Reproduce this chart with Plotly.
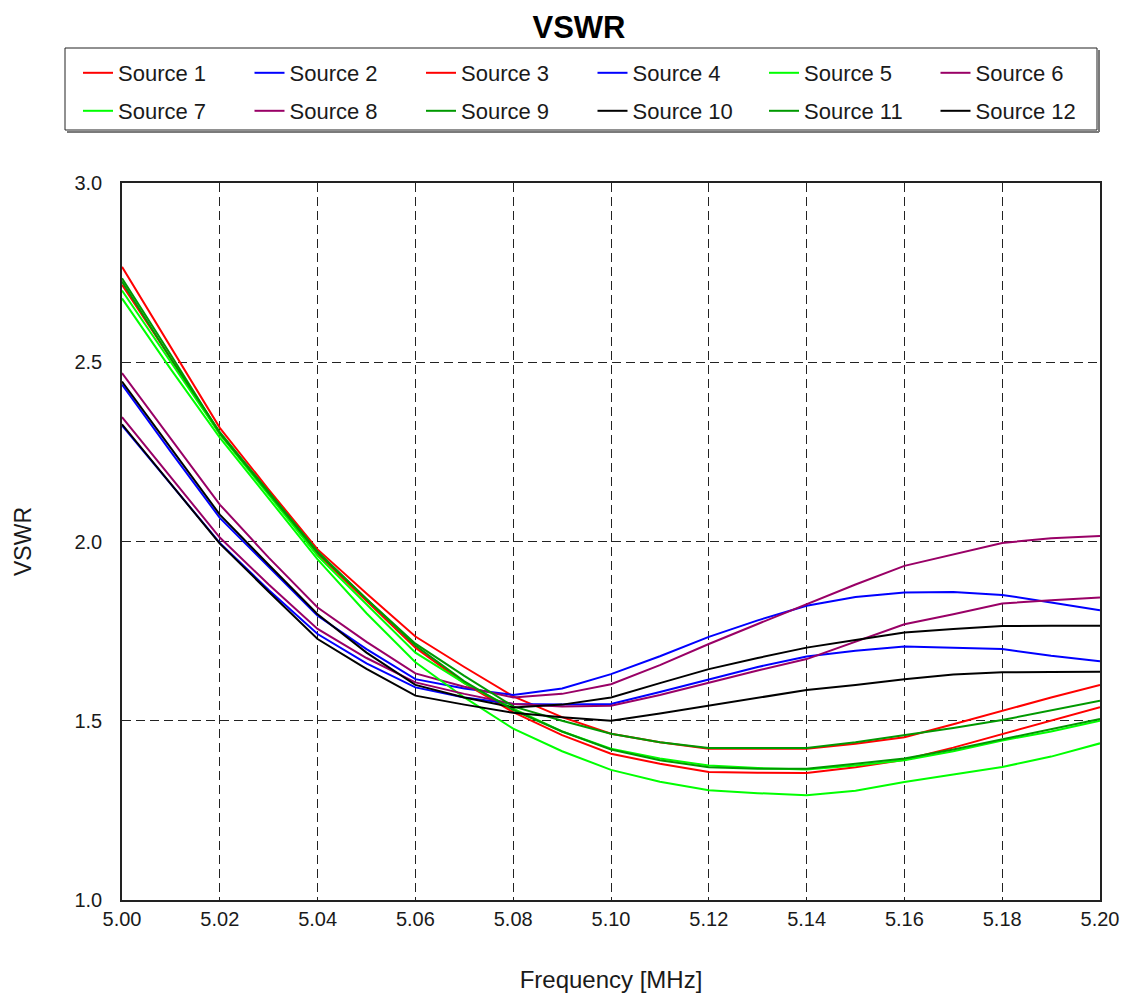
import plotly.graph_objects as go

# Frequency sweep (MHz)
freq = [5.00, 5.01, 5.02, 5.03, 5.04, 5.05, 5.06, 5.07, 5.08, 5.09, 5.10,
        5.11, 5.12, 5.13, 5.14, 5.15, 5.16, 5.17, 5.18, 5.19, 5.20]

# VSWR per source
source_1 = [2.766, 2.54, 2.317, 2.145, 1.978, 1.855, 1.735, 1.65, 1.568, 1.51, 1.464,
            1.44, 1.422, 1.422, 1.422, 1.436, 1.454, 1.49, 1.528, 1.565, 1.600]
source_2 = [2.438, 2.25, 2.066, 1.93, 1.793, 1.70, 1.616, 1.59, 1.572, 1.59, 1.630,
            1.68, 1.734, 1.78, 1.821, 1.845, 1.858, 1.859, 1.851, 1.83, 1.808]
source_3 = [2.716, 2.51, 2.30, 2.135, 1.965, 1.835, 1.704, 1.605, 1.524, 1.46, 1.408,
            1.38, 1.357, 1.355, 1.354, 1.37, 1.391, 1.425, 1.463, 1.50, 1.538]
source_4 = [2.324, 2.16, 1.996, 1.865, 1.742, 1.66, 1.593, 1.565, 1.547, 1.545, 1.547,
            1.58, 1.616, 1.65, 1.679, 1.695, 1.707, 1.704, 1.700, 1.681, 1.666]
source_5 = [2.70, 2.50, 2.30, 2.13, 1.96, 1.825, 1.69, 1.605, 1.534, 1.47, 1.422,
            1.395, 1.375, 1.368, 1.364, 1.375, 1.39, 1.415, 1.445, 1.47, 1.500]
source_6 = [2.470, 2.285, 2.103, 1.955, 1.816, 1.72, 1.632, 1.595, 1.565, 1.575, 1.602,
            1.655, 1.714, 1.77, 1.825, 1.88, 1.932, 1.964, 1.996, 2.009, 2.015]
source_7 = [2.678, 2.48, 2.29, 2.12, 1.95, 1.80, 1.663, 1.565, 1.478, 1.415, 1.363,
            1.33, 1.306, 1.298, 1.292, 1.305, 1.329, 1.35, 1.371, 1.40, 1.437]
source_8 = [2.347, 2.18, 2.011, 1.88, 1.756, 1.675, 1.607, 1.575, 1.547, 1.54, 1.542,
            1.572, 1.607, 1.64, 1.672, 1.72, 1.769, 1.797, 1.827, 1.836, 1.844]
source_9 = [2.734, 2.52, 2.302, 2.135, 1.969, 1.84, 1.715, 1.625, 1.54, 1.50, 1.464,
            1.44, 1.424, 1.424, 1.424, 1.44, 1.459, 1.48, 1.502, 1.53, 1.556]
source_10 = [2.446, 2.26, 2.075, 1.935, 1.797, 1.69, 1.60, 1.565, 1.537, 1.545, 1.565,
             1.605, 1.644, 1.675, 1.704, 1.725, 1.746, 1.756, 1.764, 1.765, 1.765]
source_11 = [2.725, 2.51, 2.305, 2.14, 1.972, 1.84, 1.71, 1.61, 1.53, 1.47, 1.42,
             1.39, 1.37, 1.366, 1.366, 1.38, 1.395, 1.42, 1.448, 1.475, 1.505]
source_12 = [2.327, 2.16, 1.994, 1.86, 1.728, 1.645, 1.570, 1.545, 1.522, 1.51, 1.50,
             1.52, 1.542, 1.565, 1.586, 1.60, 1.616, 1.629, 1.635, 1.636, 1.637]

names = ["Source %d" % i for i in range(1, 13)]
series = [source_1, source_2, source_3, source_4, source_5, source_6,
          source_7, source_8, source_9, source_10, source_11, source_12]

RED, BLUE, LIME, PURPLE, GREEN, BLACK = "#ff0000", "#0000ff", "#00ff00", "#990066", "#009900", "#000000"
colors = [RED, BLUE, RED, BLUE, LIME, PURPLE, LIME, PURPLE, GREEN, BLACK, GREEN, BLACK]

FONT = "Liberation Sans, Arial, sans-serif"
TXT = "#1a1a1a"

fig = go.Figure()
for i, (name, ys, col) in enumerate(zip(names, series, colors)):
    fig.add_trace(go.Scatter(
        x=freq, y=ys, name=name, mode="lines",
        line=dict(color=col, width=2),
        legend="legend" if i < 6 else "legend2",
    ))

# plot area in pixels: l=122, r=1100, t=183, b=900
W, H = 1126, 996
L, R, T, B = 122, 26, 183, 96
pw, ph = W - L - R, H - T - B


def px_x(x):
    return (x - L) / pw


def px_y(y):
    return (H - B - y) / ph


legend_common = dict(
    orientation="h", xanchor="left", yanchor="middle",
    x=px_x(78), entrywidth=126.5, entrywidthmode="pixels",
    font=dict(family=FONT, size=22, color=TXT),
    bgcolor="rgba(0,0,0,0)", borderwidth=0, itemwidth=30,
)

axis_common = dict(
    showline=True, linecolor="#222222", linewidth=1.5, mirror=True,
    showgrid=True, gridcolor="#222222", gridwidth=1.3, griddash="9px,5px",
    ticks="", zeroline=False,
    tickfont=dict(family=FONT, size=20, color=TXT),
)

fig.update_layout(
    width=W, height=H,
    margin=dict(l=L, r=R, t=T, b=B, autoexpand=False),
    paper_bgcolor="white", plot_bgcolor="white",
    title=dict(text="<b>VSWR</b>", x=579 / W, xanchor="center", xref="container",
               y=1 - 27 / H, yanchor="middle",
               font=dict(family=FONT, size=31, color="#000000")),
    legend=dict(y=px_y(73), **legend_common),
    legend2=dict(y=px_y(111), **legend_common),
    xaxis=dict(range=[5.0, 5.2], dtick=0.02, tick0=5.0, tickformat=".2f",
               title=dict(text="Frequency [MHz]", standoff=42,
                          font=dict(family=FONT, size=24, color=TXT)),
               **axis_common),
    yaxis=dict(range=[1.0, 3.0], dtick=0.5, tick0=1.0, tickformat=".1f",
               ticklabelstandoff=14,
               title=dict(text="VSWR", standoff=36,
                          font=dict(family=FONT, size=23, color=TXT)),
               **axis_common),
    showlegend=True,
    shapes=[
        # legend shadow
        dict(type="line", xref="paper", yref="paper",
             x0=px_x(67), x1=px_x(1099), y0=px_y(132), y1=px_y(132),
             line=dict(color="#7a7a7a", width=2)),
        dict(type="line", xref="paper", yref="paper",
             x0=px_x(1099), x1=px_x(1099), y0=px_y(50), y1=px_y(132),
             line=dict(color="#7a7a7a", width=2)),
        # legend frame
        dict(type="rect", xref="paper", yref="paper",
             x0=px_x(65), x1=px_x(1097), y0=px_y(48), y1=px_y(130),
             line=dict(color="#222222", width=1), fillcolor="rgba(0,0,0,0)"),
    ],
)

fig.write_html("out.html")
